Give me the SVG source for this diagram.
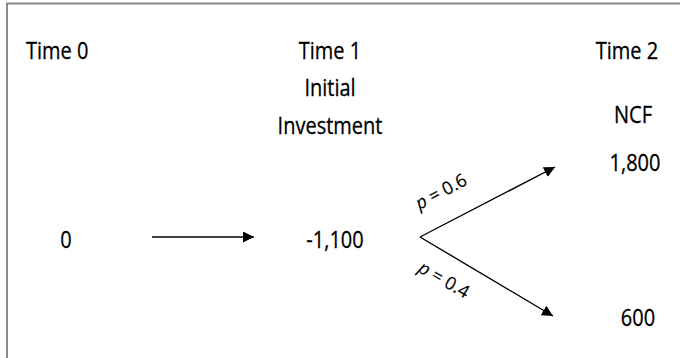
<svg xmlns="http://www.w3.org/2000/svg" width="680" height="358" viewBox="0 0 680 358">
  <defs>
    <marker id="arrow" viewBox="0 0 10 10" refX="10" refY="5" markerWidth="11" markerHeight="11" markerUnits="userSpaceOnUse" orient="auto">
      <path d="M0,0 L10,5 L0,10 Z" fill="#000"/>
    </marker>
    <style>
      text { font-family: "Open Sans", "Liberation Sans", sans-serif; font-size: 20px; fill: #000; stroke: #000; stroke-width: 0.25; }
      .c { text-anchor: middle; }
      .prob { font-size: 18px; stroke-width: 0.15; }
      .edge { stroke: #000; stroke-width: 1.4; fill: none; marker-end: url(#arrow); }
      .frame { stroke: #8a8a8a; stroke-width: 2; fill: none; }
    </style>
  </defs>
  <rect width="680" height="358" fill="#fff"/>
  <!-- outer frame: only left and top edges fall inside the view -->
  <path class="frame" d="M7,358 V3.5 H680"/>

  <g id="time0">
    <text transform="translate(26,59) scale(1,1.14)">Time 0</text>
    <text class="c" transform="translate(66,248) scale(1,1.14)">0</text>
  </g>
  <g id="time1">
    <text class="c" transform="translate(330,59) scale(1,1.14)">Time 1</text>
    <text class="c" transform="translate(330,96) scale(1,1.14)">Initial</text>
    <text class="c" transform="translate(330,134) scale(1,1.14)">Investment</text>
    <text class="c" transform="translate(335,248) scale(1,1.14)">-1,100</text>
  </g>
  <g id="time2">
    <text class="c" transform="translate(627,59) scale(1,1.14)">Time 2</text>
    <text class="c" transform="translate(633,123) scale(1,1.14)">NCF</text>
    <text class="c" transform="translate(635,171) scale(1,1.14)">1,800</text>
    <text class="c" transform="translate(638,326) scale(1,1.14)">600</text>
  </g>

  <g id="connectors">
    <line class="edge" x1="152" y1="237" x2="254" y2="237"/>
    <line class="edge" x1="420" y1="237" x2="555" y2="167"/>
    <line class="edge" x1="420" y1="237" x2="553" y2="316"/>
    <text class="prob c" transform="translate(444,197) rotate(-28)"><tspan font-style="italic">p</tspan> = 0.6</text>
    <text class="prob c" transform="translate(441,285) rotate(30)"><tspan font-style="italic">p</tspan> = 0.4</text>
  </g>
</svg>
